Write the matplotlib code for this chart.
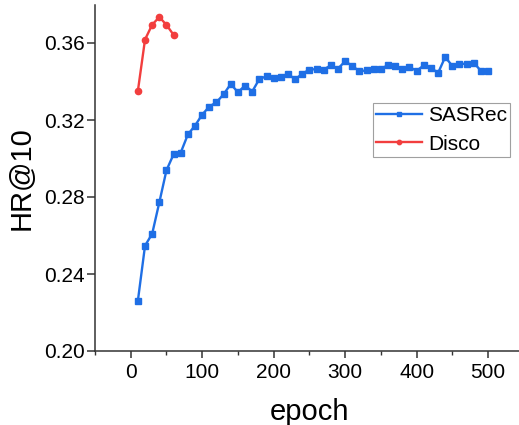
import numpy as np
import matplotlib
matplotlib.use('Agg')
import matplotlib.pyplot as plt
from matplotlib.ticker import MultipleLocator, FormatStrFormatter

plt.rcParams['font.family'] = ['Liberation Sans', 'DejaVu Sans']

# SASRec HR@10, every 10 epochs
sas_epoch = np.arange(10, 510, 10)
sas_hr = [0.2261, 0.2547, 0.2609, 0.2772, 0.2939, 0.3022, 0.3031, 0.3125,
          0.3171, 0.3228, 0.3270, 0.3292, 0.3334, 0.3387, 0.3344, 0.3379,
          0.3348, 0.3413, 0.3427, 0.3420, 0.3425, 0.3440, 0.3411, 0.3440,
          0.3462, 0.3464, 0.3462, 0.3484, 0.3467, 0.3505, 0.3481, 0.3453,
          0.3458, 0.3467, 0.3467, 0.3484, 0.3481, 0.3467, 0.3476, 0.3455,
          0.3484, 0.3472, 0.3444, 0.3527, 0.3481, 0.3490, 0.3493, 0.3498,
          0.3455, 0.3455]
# Disco HR@10
disco_epoch = [10, 20, 30, 40, 50, 60]
disco_hr = [0.3351, 0.3618, 0.3695, 0.3735, 0.3694, 0.3642]

fig = plt.figure(figsize=(5.19, 4.25), dpi=100)
ax = fig.add_axes([95/519, 74/425, (523.8-95)/519, 346.5/425])

ax.plot(sas_epoch, sas_hr, '-s', color='#1F6FE5', lw=1.7, ms=4.5, label='SASRec')
ax.plot(disco_epoch, disco_hr, '-o', color='#F23E3E', lw=1.7, ms=4.5, label='Disco')

ax.set_xlim(-50, 550)
ax.set_ylim(0.20, 0.38)
ax.set_xticks([0, 100, 200, 300, 400, 500])
ax.xaxis.set_minor_locator(MultipleLocator(50))
ax.set_yticks([0.20, 0.24, 0.28, 0.32, 0.36])
ax.yaxis.set_major_formatter(FormatStrFormatter('%.2f'))

for s in ['top', 'right']:
    ax.spines[s].set_visible(False)
for s in ['left', 'bottom']:
    ax.spines[s].set_linewidth(1.1)
    ax.spines[s].set_color('#333333')
ax.tick_params(which='major', direction='out', width=1.1,
               labelsize=15, color='#333333')
ax.tick_params(axis='x', which='major', length=5, pad=4)
ax.tick_params(axis='y', which='major', length=6, pad=1.5)
ax.tick_params(which='minor', direction='out', length=3, width=1.0,
               color='#333333')

ax.set_xlabel('epoch', fontsize=21, labelpad=11)
ax.set_ylabel('HR@10', fontsize=21, labelpad=6)

leg = ax.legend(loc='upper left', bbox_to_anchor=(373/519, 1-103/425),
                bbox_transform=fig.transFigure, fontsize=15,
                frameon=True, fancybox=False, handlelength=2.2,
                borderaxespad=0, borderpad=0.15, labelspacing=0.45,
                handletextpad=0.3, markerscale=0.7)
leg.get_frame().set_edgecolor('#888888')
leg.get_frame().set_linewidth(0.8)

fig.savefig('out.png', dpi=100)
